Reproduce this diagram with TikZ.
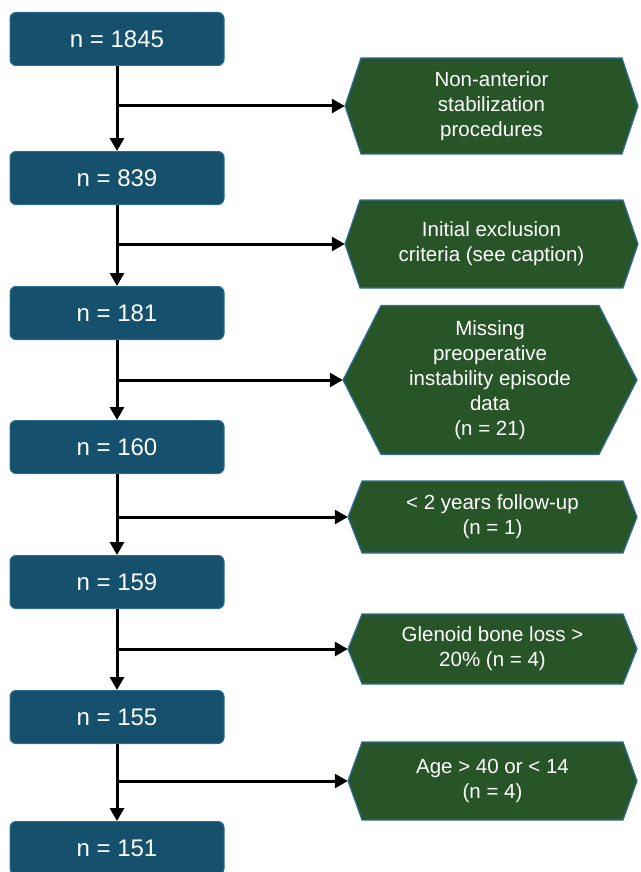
\documentclass[tikz,border=0pt]{standalone}
\usepackage{fontspec}
\setmainfont{Liberation Sans}
\usetikzlibrary{arrows.meta}
\definecolor{boxblue}{HTML}{15506C}
\definecolor{boxedge}{HTML}{2C6E8E}
\definecolor{hexgreen}{HTML}{285528}
\definecolor{hexedge}{HTML}{2F6FA0}
\tikzset{
  nbox/.style={rectangle, rounded corners=6pt, fill=boxblue, draw=boxedge, line width=1pt,
    minimum width=214pt, minimum height=53pt, text=white, font=\fontsize{24}{28}\selectfont},
  hexshape/.style={fill=hexgreen, draw=hexedge, line width=1.2pt},
  hextext/.style={rectangle, inner sep=0pt, text=white, align=center,
    font=\fontsize{20.5}{25}\selectfont},
  flow/.style={line width=3pt, -{Triangle[length=13pt,width=14pt]}},
  branch/.style={line width=3pt, -{Triangle[length=13pt,width=14pt]}}
}
\newcommand\hexnode[7]{% name, cx, cy, halfw, halfh, inset, text
  \filldraw[hexshape] ({#2-#4},#3) -- ({#2-#4+#6},{#3-#5}) -- ({#2+#4-#6},{#3-#5})
    -- ({#2+#4},#3) -- ({#2+#4-#6},{#3+#5}) -- ({#2-#4+#6},{#3+#5}) -- cycle;
  \node[hextext, minimum width={2*#4*1pt}, minimum height={2*#5*1pt}] (#1) at (#2,#3) {#7};}
\begin{document}
\begin{tikzpicture}[x=1pt,y=-1pt]
\useasboundingbox (0,0) rectangle (640,872);
\node[nbox] (b1) at (117,39) {n = 1845};
\node[nbox] (b2) at (117,178) {n = 839};
\node[nbox] (b3) at (117,313) {n = 181};
\node[nbox] (b4) at (117,447) {n = 160};
\node[nbox] (b5) at (117,582) {n = 159};
\node[nbox] (b6) at (117,717) {n = 155};
\node[nbox] (b7) at (117,848) {n = 151};

\hexnode{h1}{491.5}{106}{146.5}{48}{16}{Non-anterior\\stabilization\\procedures}
\hexnode{h2}{491.5}{244}{146.5}{44}{15}{Initial exclusion\\criteria (see caption)}
\hexnode{h3}{490}{380}{147}{74.5}{38}{Missing\\preoperative\\instability episode\\data\\(n = 21)}
\hexnode{h4}{492.5}{517}{144.5}{36}{14}{< 2 years follow-up\\(n = 1)}
\hexnode{h5}{492.5}{649}{144.5}{35}{14}{Glenoid bone loss >\\20\% (n = 4)}
\hexnode{h6}{492.5}{781}{144.5}{39}{14}{Age > 40 or < 14\\(n = 4)}

\draw[flow] (b1.south) -- (b2.north);
\draw[flow] (b2.south) -- (b3.north);
\draw[flow] (b3.south) -- (b4.north);
\draw[flow] (b4.south) -- (b5.north);
\draw[flow] (b5.south) -- (b6.north);
\draw[flow] (b6.south) -- (b7.north);

\draw[branch] (b1.south |- h1.west) -- (h1.west);
\draw[branch] (b2.south |- h2.west) -- (h2.west);
\draw[branch] (b3.south |- h3.west) -- (h3.west);
\draw[branch] (b4.south |- h4.west) -- (h4.west);
\draw[branch] (b5.south |- h5.west) -- (h5.west);
\draw[branch] (b6.south |- h6.west) -- (h6.west);
\end{tikzpicture}
\end{document}
